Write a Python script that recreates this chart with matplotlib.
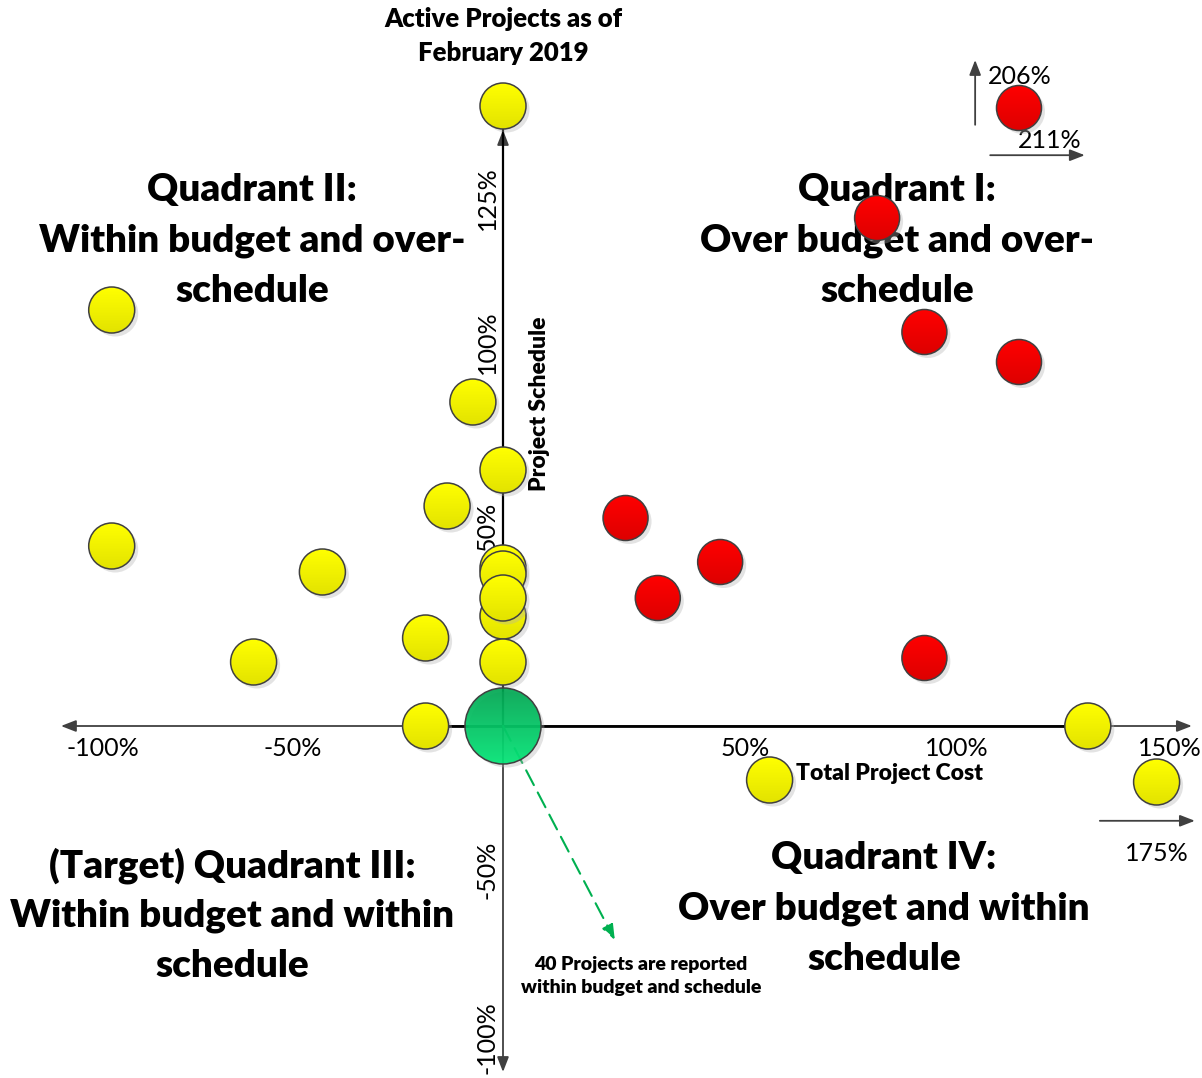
import numpy as np
import matplotlib
matplotlib.use("Agg")
import matplotlib.pyplot as plt
from matplotlib.patches import Ellipse

plt.rcParams['font.family'] = ['Lato', 'DejaVu Sans']

# project positions in % (cost overrun, schedule overrun) as drawn on the chart
yellow_cost = [0, -91, -7, 0, -13, -91, -42, 0, 0, 0, 0, -18, -58, 0, -18, 136, 62, 152]
yellow_sched = [155, 104, 81, 64, 55, 45, 38.5, 39.5, 38, 27.5, 32, 22, 16, 16, 0, 0, -13.5, -14]
red_cost = [120, 87, 98, 120, 28.5, 50.5, 36, 98]
red_sched = [154.5, 127, 98.5, 91, 52, 41, 32, 17]
target_cost = [0]
target_sched = [0]

xtick_labels = ['-100%', '-50%', '50%', '100%', '150%']
xtick_pos = [-93, -48.8, 56.3, 105.6, 155.1]
ytick_labels = ['125%', '100%', '50%', '-50%', '-100%']
ytick_pos = [132, 96, 50, -36, -78]

quad_text = [
    ['Quadrant I:', 'Over budget and over-', 'schedule'],
    ['Quadrant II:', 'Within budget and over-', 'schedule'],
    ['(Target) Quadrant III:', 'Within budget and within', 'schedule'],
    ['Quadrant IV:', 'Over budget and within', 'schedule'],
]
quad_xy = [(91.6, 134), (-58.4, 134), (-63, -34.8), (88.6, -33)]

# pixel scale of the drawing (px per %)
SX = 4.3
SY = 4.0
BOLD = 'heavy'

fig = plt.figure(figsize=(12.02, 10.78), dpi=100)
ax = fig.add_axes([0, 0, 1, 1])
ax.axis('off')


def bubble(x, y, diam, top, bottom, z, alpha=1.0):
    w = diam / SX
    h = diam / SY
    sh = Ellipse((x + 3.5 / SX, y - 3.5 / SY), w, h, color='#b0b0b0', alpha=0.35, lw=0, zorder=z)
    ax.add_patch(sh)
    clip = Ellipse((x, y), w, h, transform=ax.transData)
    grad = np.linspace(np.array(top), np.array(bottom), 64).reshape(64, 1, 3)
    im = ax.imshow(grad, extent=[x - w / 2, x + w / 2, y - h / 2, y + h / 2],
                   aspect='auto', zorder=z, alpha=alpha, interpolation='bilinear')
    im.set_clip_path(clip)
    ax.add_patch(Ellipse((x, y), w, h, fill=False, edgecolor='#404040', lw=1.1, zorder=z))


def arrow(x0, y0, x1, y1, col='#404040', lw=1.3, ls='-', z=2):
    ax.annotate('', xy=(x1, y1), xytext=(x0, y0),
                arrowprops=dict(arrowstyle='-|>,head_length=0.9,head_width=0.35', color=col,
                                lw=lw, linestyle=ls, shrinkA=0, shrinkB=0), zorder=z)


# axes
arrow(0, 0, -102.8, 0)
arrow(0, 0, 160.2, 0)
arrow(0, 0, 0, -86.5)
arrow(0, 0, 0, 149)
ax.plot([-18, 136], [0, 0], color='black', lw=2, zorder=2)
ax.plot([0, 0], [0, 150], color='black', lw=1.6, zorder=2)

# off-scale markers
arrow(109.8, 150.3, 109.8, 166.5)
arrow(113.3, 142.7, 135.3, 142.7)
arrow(138.8, -23.7, 160.9, -23.7)
ax.text(120.2, 162.3, '206%', ha='center', va='center', fontsize=18)
ax.text(127.2, 146.5, '211%', ha='center', va='center', fontsize=18)
ax.text(152.1, -31.8, '175%', ha='center', va='center', fontsize=18)

for lab, p in zip(xtick_labels, xtick_pos):
    ax.text(p, -5.5, lab, ha='center', va='center', fontsize=18)
for lab, p in zip(ytick_labels, ytick_pos):
    ax.text(-3.7, p, lab, ha='center', va='center', fontsize=18, rotation=90)

# green dashed pointer
arrow(0, 0, 26, -53.5, col='#00B050', lw=1.5, ls=(0, (8, 4)), z=3)

for x, y in zip(yellow_cost, yellow_sched):
    bubble(x, y, 46, (1, 1, 0), (0.89, 0.89, 0), 4)
for x, y in zip(red_cost, red_sched):
    bubble(x, y, 45, (1, 0, 0), (0.87, 0, 0), 4)
for x, y in zip(target_cost, target_sched):
    bubble(x, y, 76, (0, 0.65, 0.32), (0, 0.9, 0.46), 4, alpha=0.92)

# titles and labels
ax.text(0, 172.5, 'Active Projects as of\nFebruary 2019', ha='center', va='center',
        fontsize=18.5, fontweight=BOLD, linespacing=1.47)
ax.text(8.4, 80.5, 'Project Schedule', ha='center', va='center', fontsize=16.5,
        fontweight=BOLD, rotation=90, zorder=6)
ax.text(90, -12, 'Total Project Cost', ha='center', va='center', fontsize=16.5,
        fontweight=BOLD, zorder=6)
ax.text(32.1, -62.5, '40 Projects are reported\nwithin budget and schedule', ha='center',
        va='center', fontsize=14, fontweight=BOLD, linespacing=1.45)

# quadrant captions, one text per line (50 px apart)
for lines, (qx, qy) in zip(quad_text, quad_xy):
    for i, line in enumerate(lines):
        ax.text(qx, qy - i * 12.6, line, ha='center', va='center', fontsize=27.7,
                fontweight=BOLD, zorder=3)

ax.set_xlim(-503 / SX, 699 / SX)
ax.set_ylim(-352 / SY, 726 / SY)

fig.savefig('out.png', dpi=100)
